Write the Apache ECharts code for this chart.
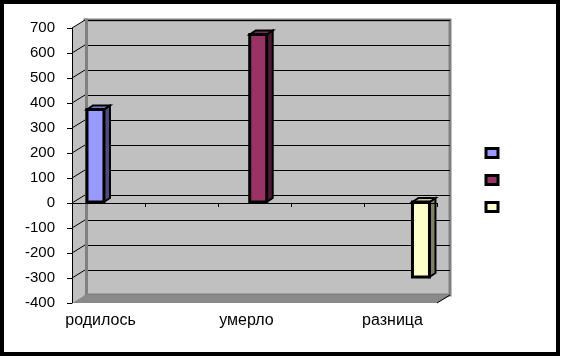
<!DOCTYPE html>
<html>
<head>
<meta charset="utf-8">
<script src="https://cdn.jsdelivr.net/npm/echarts@6/dist/echarts.min.js"></script>
<style>
html,body{margin:0;padding:0;background:#fff;}
#chart{width:566px;height:362px;}
</style>
</head>
<body>
<div id="chart"></div>
<script>
// ---- data ----
const categories = ['родилось', 'умерло', 'разница'];
const values = [370, 670, -300];
const yMin = -400;
const yMax = 700;
const yStep = 100;
// axis labels: categories spaced every other slot
const axisLabels = ['родилось', '', 'умерло', '', 'разница'];

// ---- styles ----
const faceColors = ['#9999FF', '#993366', '#FFFFCC'];
const sideColors = ['#4D4D80', '#4D1A33', '#808066'];
const topColors = ['#7A7ACC', '#7A2952', '#CCCCA3'];
const FONT = 'Liberation Sans, Arial, sans-serif';

const chart = echarts.init(document.getElementById('chart'), null, {renderer: 'canvas'});

function makeRender(si) {
  return function (params, api) {
    const idx = api.value(0), v = api.value(1);
    const pTop = api.coord([idx, Math.max(v, 0)]);
    const pBot = api.coord([idx, Math.min(v, 0)]);
    const cx = pTop[0], hw = 8.5, dx = 6, dy = 4;
    const l = cx - hw, r = cx + hw, t = pTop[1], b = pBot[1];
    const st = {stroke: '#000', lineWidth: 3, lineJoin: 'miter'};
    return {
      type: 'group',
      children: [
        {type: 'polygon', shape: {points: [[r, t], [r + dx, t - dy], [r + dx, b - dy], [r, b]]},
         style: Object.assign({fill: sideColors[si]}, st, {lineWidth: 2})},
        {type: 'polygon', shape: {points: [[l, t], [l + dx, t - dy], [r + dx, t - dy], [r, t]]},
         style: Object.assign({fill: topColors[si]}, st, {lineWidth: 2})},
        {type: 'rect', shape: {x: l, y: t, width: r - l, height: b - t},
         style: Object.assign({fill: faceColors[si]}, st)}
      ]
    };
  };
}

const series = categories.map(function (name, i) {
  return {
    name: name,
    type: 'custom',
    xAxisIndex: 2,
    yAxisIndex: 2,
    z: 4,
    itemStyle: {color: faceColors[i]},
    renderItem: makeRender(i),
    data: [[i, values[i]]]
  };
});

const option = {
  animation: false,
  backgroundColor: '#fff',
  textStyle: {fontFamily: FONT},
  legend: {
    orient: 'vertical',
    left: 479.5,
    top: 142,
    icon: 'rect',
    itemWidth: 12,
    itemHeight: 9,
    itemGap: 15,
    selectedMode: false,
    formatter: function () { return ''; },
    itemStyle: {borderColor: '#000', borderWidth: 3},
    textStyle: {fontSize: 9, lineHeight: 9},
    data: categories
  },
  grid: [
    // back wall
    {left: 85, top: 20, width: 365, height: 275, show: true, backgroundColor: '#C0C0C0',
     borderColor: '#808080', borderWidth: 3, containLabel: false},
    // front axes
    {left: 72, top: 28, width: 365, height: 275, containLabel: false},
    // bars plane
    {left: 14.1, top: 27, width: 488.25, height: 275, containLabel: false}
  ],
  xAxis: [
    {gridIndex: 0, type: 'category', data: categories, show: false},
    {gridIndex: 1, type: 'category', data: axisLabels, z: 5,
     axisLine: {show: true, lineStyle: {color: '#000', width: 1}},
     axisTick: {show: true, length: 4, lineStyle: {color: '#000'}, interval: 0},
     axisLabel: {interval: 0, color: '#000', fontSize: 16, fontFamily: FONT, margin: 10,
                 padding: [0, 16, 0, 0]},
     splitLine: {show: false}},
    {gridIndex: 2, type: 'category', data: categories, show: false}
  ],
  yAxis: [
    {gridIndex: 0, type: 'value', min: yMin, max: yMax, interval: yStep,
     axisLine: {show: false}, axisTick: {show: false}, axisLabel: {show: false},
     splitLine: {show: true, lineStyle: {color: '#000', width: 1}}},
    {gridIndex: 1, type: 'value', min: yMin, max: yMax, interval: yStep, z: 5,
     axisLine: {show: true, lineStyle: {color: '#000', width: 1}},
     axisTick: {show: true, length: 5, lineStyle: {color: '#000'}},
     axisLabel: {color: '#000', fontSize: 15, fontFamily: FONT, margin: 17},
     splitLine: {show: false}},
    {gridIndex: 2, type: 'value', min: yMin, max: yMax, interval: yStep, show: false,
     splitLine: {show: false}}
  ],
  series: series
};

chart.setOption(option);

// decorations: side wall, floor, outer frame
const wallDx = 13, wallDy = 8;
const gTopFront = chart.convertToPixel({yAxisIndex: 1}, yMax);
const gBotFront = chart.convertToPixel({yAxisIndex: 1}, yMin);
const frontLeft = 72, frontRight = 437;
const graphics = [
  {type: 'rect', z: -10, shape: {x: 2, y: 2, width: 556, height: 352},
   style: {fill: '#fff', stroke: '#000', lineWidth: 4}},
  {type: 'polygon', z: 1, shape: {points: [[frontLeft, gTopFront], [frontLeft + wallDx, gTopFront - wallDy],
      [frontLeft + wallDx, gBotFront - wallDy], [frontLeft, gBotFront]]},
   style: {fill: '#C0C0C0'}},
  {type: 'line', z: 1, shape: {x1: frontLeft + wallDx + 1.5, y1: gTopFront - wallDy - 1.5, x2: frontLeft + wallDx + 1.5, y2: gBotFront - wallDy},
   style: {stroke: '#808080', lineWidth: 3}},
  {type: 'polygon', z: 1, shape: {points: [[frontLeft, gBotFront], [frontLeft + wallDx, gBotFront - wallDy],
      [frontRight + wallDx + 1.5, gBotFront - wallDy], [frontRight, gBotFront]]},
   style: {fill: '#8A8A8A'}},
  {type: 'line', z: 6, shape: {x1: frontRight, y1: gBotFront, x2: frontRight + wallDx, y2: gBotFront - wallDy},
   style: {stroke: '#000', lineWidth: 1}}
];
for (let v = yMin + yStep; v <= yMax; v += yStep) {
  const y = chart.convertToPixel({yAxisIndex: 1}, v);
  graphics.push({type: 'line', z: 2, shape: {x1: frontLeft, y1: y, x2: frontLeft + wallDx, y2: y - wallDy},
    style: {stroke: '#000', lineWidth: 1}});
}
chart.setOption({graphic: graphics});
</script>
</body>
</html>
